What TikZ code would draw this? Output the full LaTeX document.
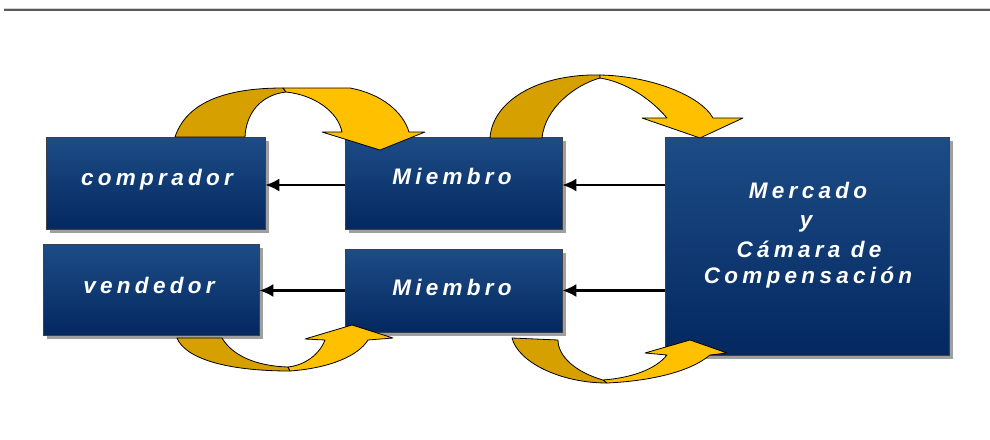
\documentclass[tikz,border=0pt]{standalone}
\usepackage{fontspec}
\setmainfont{Liberation Sans}
\newfontfamily\boxfont{Liberation Sans}[LetterSpace=19]
\usetikzlibrary{arrows.meta,shadows}

\definecolor{boxtop}{RGB}{29,76,134}
\definecolor{boxbot}{RGB}{4,40,96}
\definecolor{boxedge}{RGB}{60,64,72}
\definecolor{golddark}{RGB}{214,160,0}
\definecolor{goldlight}{RGB}{255,192,0}
\definecolor{rulegray}{RGB}{90,90,90}

\tikzset{
  bluebox/.style={rectangle, draw=boxedge, line width=0.6pt,
    top color=boxtop, bottom color=boxbot, inner sep=0pt,
    drop shadow={shadow xshift=3.5pt, shadow yshift=-3.5pt, fill=gray!75, opacity=1}},
  boxlabel/.style={anchor=base, text=white, inner sep=0pt,
    font=\boxfont\fontsize{22.5}{28}\selectfont\bfseries\itshape},
  flowline/.style={draw=black, line width=2.4pt, -{Latex[length=14pt,width=13pt]}},
  ribbonback/.style={fill=golddark, draw=black, line width=0.8pt, line join=round},
  ribbonfront/.style={fill=goldlight, draw=black, line width=0.8pt, line join=round}
}

\begin{document}
\begin{tikzpicture}[x=1pt,y=-1pt]
  \useasboundingbox (0,0) rectangle (990,439);
  \fill[white] (0,0) rectangle (990,439);

  % header rule
  \draw[gray!35, line width=1pt] (4,8.2) -- (990,8.2);
  \draw[rulegray, line width=1.6pt] (4,9.8) -- (990,9.8);

  % boxes
  \node[bluebox, minimum width=219pt, minimum height=92pt] (comp) at (155.5,183) {};
  \node[bluebox, minimum width=216pt, minimum height=91pt] (vend) at (151,289.5) {};
  \node[bluebox, minimum width=217pt, minimum height=92pt] (mtop) at (453.5,183) {};
  \node[bluebox, minimum width=217pt, minimum height=83pt] (mbot) at (453.5,290.5) {};
  \node[bluebox, minimum width=284pt, minimum height=218pt] (merc) at (807,246) {};

  % labels
  \node[boxlabel] (tcomp) at (157,185) {comprador};
  \node[boxlabel] (tvend) at (149,293) {vendedor};
  \node[boxlabel] (tmtop) at (452,184) {Miembro};
  \node[boxlabel] (tmbot) at (452,295) {Miembro};
  \node[boxlabel] (tmerc1) at (808,198) {Mercado};
  \node[boxlabel] (tmerc2) at (806,227) {y};
  \node[boxlabel] (tmerc3) at (809,257) {Cámara de};
  \node[boxlabel] (tmerc4) at (808,283) {Compensación};

  % horizontal connectors
  \draw[flowline] ([yshift=-2pt]mtop.west) -- ([yshift=-2pt]comp.east);
  \draw[flowline] (mbot.west) -- (mbot.west -| vend.east);
  \draw[flowline] ([yshift=-2pt]merc.west |- mtop.west) -- ([yshift=-2pt]mtop.east);
  \draw[flowline] (merc.west |- mbot.west) -- (mbot.east);

  % curved ribbon arrows, upper row
  \draw[ribbonback] (175,137) .. controls (186,104) and (222,88) .. (283,88)
    -- (286,92) .. controls (260,95) and (246,114) .. (245,137) -- cycle;
  \draw[ribbonfront] (283,88) -- (350,88) .. controls (382,94) and (403,112) .. (409,132)
    -- (425,132) -- (380,150) -- (322,132) -- (342,132)
    .. controls (338,112) and (315,95) .. (286,92) -- cycle;

  \draw[ribbonback] (490,138) .. controls (492,105) and (530,77) .. (590,75)
    -- (600,75) -- (600,78) .. controls (575,85) and (545,108) .. (542,138) -- cycle;
  \draw[ribbonfront] (600,75) .. controls (650,76) and (700,95) .. (713,118)
    -- (743,118) -- (700,138) -- (642,118) -- (667,118)
    .. controls (650,98) and (625,82) .. (600,78) -- cycle;

  % curved ribbon arrows, lower row
  \draw[ribbonback] (177,338) .. controls (185,358) and (225,371) .. (290,371)
    -- (288,367) .. controls (255,366) and (232,355) .. (222,338) -- cycle;
  \draw[ribbonfront] (290,371) .. controls (330,368) and (358,356) .. (368,340)
    -- (393,338) -- (352,325) -- (305,339) -- (325,340)
    .. controls (318,358) and (300,366) .. (288,367) -- cycle;

  \draw[ribbonback] (512,338) .. controls (518,362) and (560,383) .. (607,383)
    -- (603,380) .. controls (575,372) and (558,356) .. (558,340) -- cycle;
  \draw[ribbonfront] (607,383) .. controls (650,381) and (690,372) .. (710,355)
    -- (727,353) -- (690,340) -- (645,353) -- (667,355)
    .. controls (655,370) and (630,378) .. (603,380) -- cycle;
\end{tikzpicture}
\end{document}
